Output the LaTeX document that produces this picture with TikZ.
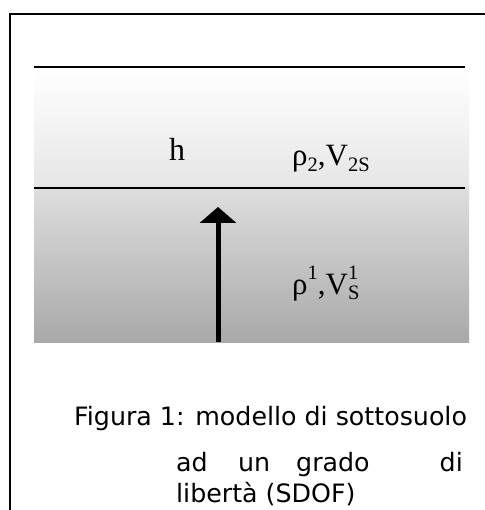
\documentclass[tikz,border=0pt]{standalone}
\usepackage{fontspec}
\setmainfont{Liberation Serif}
\newfontfamily\capfont{DejaVu Sans}
\usetikzlibrary{arrows.meta}
\newcommand{\lsub}[1]{\raisebox{-0.17em}{\fontsize{20.5}{22}\selectfont #1}}
\newcommand{\lsup}[1]{\raisebox{0.48em}{\fontsize{20.5}{22}\selectfont #1}}
\newcommand{\lsupsub}[2]{\makebox[0pt][l]{\lsup{#1}}\lsub{#2}}
\tikzset{
  layerline/.style={line width=1.5pt, black},
  serif/.style={font=\fontsize{31}{34}\selectfont, anchor=base west, inner sep=0pt},
  captxt/.style={font=\capfont\fontsize{25.3}{30}\selectfont, anchor=base west, inner sep=0pt},
}
\begin{document}
\begin{tikzpicture}[x=1pt,y=-1pt]
\useasboundingbox (0,0) rectangle (484,510);
\fill[white] (0,0) rectangle (484,510);
% outer frame
\draw[line width=2pt] (10,530) -- (10,14) -- (500,14);
% layers
\fill[top color=white, bottom color=black!10] (34,68) rectangle (469,188);
\fill[top color=black!13, bottom color=black!34] (34,188) rectangle (469,342);
\coordinate (t1) at (34,67); \coordinate (t2) at (465,67);
\coordinate (m1) at (34,188); \coordinate (m2) at (465,188);
\draw[layerline] (t1) -- (t2);
\draw[layerline] (m1) -- (m2);
% arrow
\coordinate (a0) at (218,342);
\coordinate (a1) at (218,207);
\draw[line width=5pt, -{Triangle[width=36pt,length=16pt]}] (a0) -- (a1);
% labels
\node[serif, font=\fontsize{32}{36}\selectfont] (h) at (169,161) {h};
\node[serif] (rho2) at (292,166) {ρ\lsub{2},V\lsub{2S}};
\node[serif] (rho1) at (292,294) {ρ\lsup{1},V\lsupsub{1}{S}};
% caption
\node[captxt] (c1) at (74,425) {Figura 1: modello di sottosuolo};
\node[captxt] (c2a) at (176,471) {ad};
\node[captxt] (c2b) at (238,471) {un};
\node[captxt] (c2c) at (296,471) {grado};
\node[captxt, anchor=base east] (c2d) at (463,471) {di};
\node[captxt] (c3) at (176,502) {libertà (SDOF)};
\end{tikzpicture}
\end{document}
